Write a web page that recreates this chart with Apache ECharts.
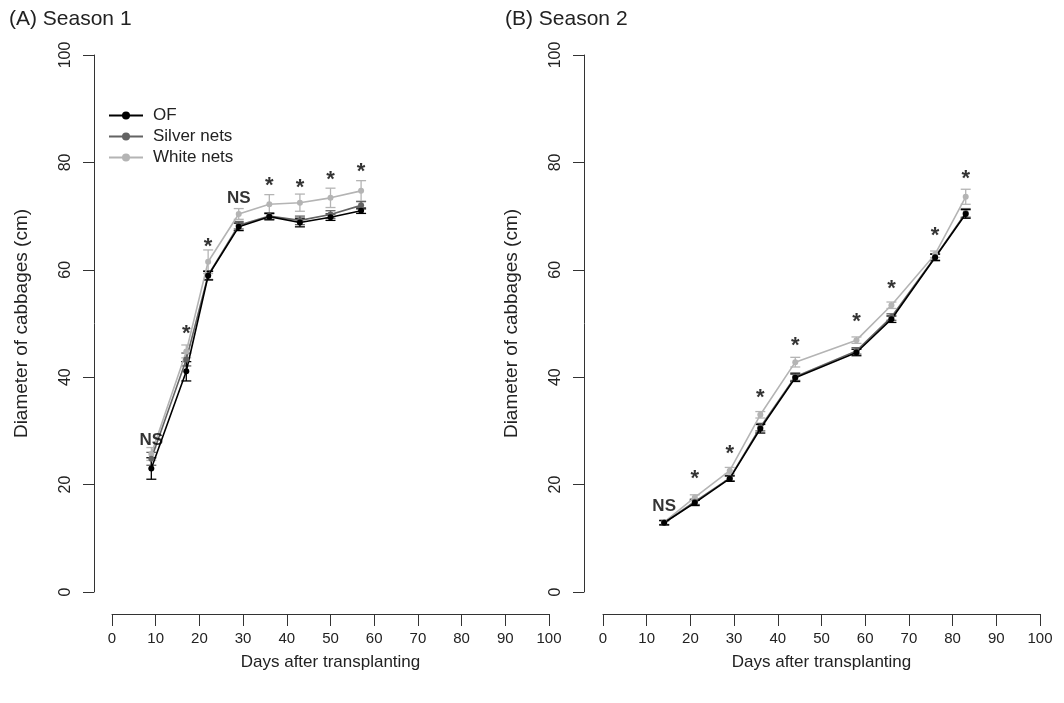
<!DOCTYPE html>
<html><head><meta charset="utf-8">
<script src="https://cdn.jsdelivr.net/npm/echarts@6/dist/echarts.min.js"></script>
<style>html,body{margin:0;padding:0;background:#fff}#c{width:1064px;height:703px}</style>
</head><body><div id="c"></div>
<script>
// ---- data ----
const xTicks = [0,10,20,30,40,50,60,70,80,90,100];
const yTicks = [0,20,40,60,80,100];
const seriesNames = ['OF','Silver nets','White nets'];
const panelTitles = ['(A) Season 1','(B) Season 2'];
const xTitle = 'Days after transplanting';
const yTitle = 'Diameter of cabbages (cm)';

const days1 = [9,17,22,29,36,43,50,57];
const of1 = [23.0,41.1,58.9,68.0,69.9,68.8,69.8,71.0];
const silver1 = [24.8,43.3,59.0,68.3,70.0,69.2,70.3,72.0];
const white1 = [25.7,44.8,61.5,70.4,72.2,72.5,73.4,74.7];
const ofErr1 = [2.0,1.8,0.8,0.7,0.6,0.8,0.6,0.5];
const silverErr1 = [1.2,1.2,0.8,0.7,0.6,0.8,0.7,0.7];
const whiteErr1 = [1.2,1.2,2.2,1.0,1.8,1.6,1.8,1.9];
const sig1 = ['NS','*','*','NS','*','*','*','*'];
const sigY1 = [28.3,49.2,65.4,73.4,76.7,76.3,77.8,79.3];

const days2 = [14,21,29,36,44,58,66,76,83];
const of2 = [12.9,16.6,21.1,30.4,39.9,44.6,50.8,62.3,70.4];
const silver2 = [12.9,16.8,21.2,30.7,40.1,44.9,51.2,62.4,70.6];
const white2 = [13.0,17.6,22.6,33.0,42.8,46.9,53.4,62.9,73.6];
const ofErr2 = [0.4,0.5,0.5,0.8,0.7,0.6,0.6,0.6,0.8];
const silverErr2 = [0.4,0.5,0.5,0.7,0.7,0.6,0.6,0.6,0.8];
const whiteErr2 = [0.4,0.5,0.6,0.6,0.9,0.6,0.6,0.6,1.4];
const sig2 = ['NS','*','*','*','*','*','*','*','*'];
const sigY2 = [15.9,22.1,26.9,37.3,47.0,51.4,57.6,67.4,78.1];

// ---- chart ----
const colors = {'OF':'#000000','Silver nets':'#636363','White nets':'#b4b4b4'};
const FONT = '"Liberation Sans", Arial, sans-serif';
const txt = '#222';

const panels = [
  {days: days1, vals: {'OF':of1,'Silver nets':silver1,'White nets':white1}, errs: {'OF':ofErr1,'Silver nets':silverErr1,'White nets':whiteErr1}, sig: sig1, sigY: sigY1},
  {days: days2, vals: {'OF':of2,'Silver nets':silver2,'White nets':white2}, errs: {'OF':ofErr2,'Silver nets':silverErr2,'White nets':whiteErr2}, sig: sig2, sigY: sigY2}
];

const grids = [
  {left:112, top:55, width:437, height:537},
  {left:603, top:55, width:437, height:537}
];

const xAxes = grids.map((g,i)=>({
  gridIndex:i, type:'value', min:0, max:100, interval:10, offset:22,
  name:xTitle, nameLocation:'middle', nameGap:40,
  nameTextStyle:{fontFamily:FONT, fontSize:17, color:txt},
  axisLine:{show:true, onZero:false, lineStyle:{color:'#333', width:1}},
  axisTick:{show:true, length:12, lineStyle:{color:'#333'}},
  axisLabel:{fontFamily:FONT, fontSize:15, color:txt, margin:17, showMaxLabel:true, showMinLabel:true},
  splitLine:{show:false}
}));
const yAxes = grids.map((g,i)=>({
  gridIndex:i, type:'value', min:0, max:100, interval:20, offset:i===0?18:19,
  name:yTitle, nameLocation:'middle', nameGap:63,
  nameTextStyle:{fontFamily:FONT, fontSize:19, color:txt},
  axisLine:{show:true, onZero:false, lineStyle:{color:'#333', width:1}},
  axisTick:{show:true, length:11, lineStyle:{color:'#333'}},
  axisLabel:{fontFamily:FONT, fontSize:16, color:txt, rotate:90, margin:20, showMaxLabel:true, showMinLabel:true},
  splitLine:{show:false}
}));

const series = [];
const drawOrder = ['White nets','Silver nets','OF'];
panels.forEach((p,pi)=>{
  drawOrder.forEach(name=>{
    const v = p.vals[name], e = p.errs[name];
    series.push({
      type:'custom', xAxisIndex:pi, yAxisIndex:pi, silent:true, z:2,
      data: p.days.map((d,k)=>[d, v[k]-e[k], v[k]+e[k]]),
      renderItem:(params, api)=>{
        const lo = api.coord([api.value(0), api.value(1)]);
        const hi = api.coord([api.value(0), api.value(2)]);
        const w = 5;
        const st = {stroke: colors[name], lineWidth:1.3};
        return {type:'group', children:[
          {type:'line', shape:{x1:lo[0],y1:lo[1],x2:hi[0],y2:hi[1]}, style:st},
          {type:'line', shape:{x1:lo[0]-w,y1:lo[1],x2:lo[0]+w,y2:lo[1]}, style:st},
          {type:'line', shape:{x1:hi[0]-w,y1:hi[1],x2:hi[0]+w,y2:hi[1]}, style:st}
        ]};
      }
    });
    series.push({
      name, type:'line', xAxisIndex:pi, yAxisIndex:pi, z:3,
      data: p.days.map((d,k)=>[d, v[k]]),
      symbol:'circle', symbolSize:6, showSymbol:true,
      itemStyle:{color:colors[name]},
      lineStyle:{color:colors[name], width:1.6},
      animation:false
    });
  });
  series.push({
    type:'scatter', xAxisIndex:pi, yAxisIndex:pi, symbolSize:0, silent:true, z:4,
    data: p.days.map((d,k)=>({value:[d, p.sigY[k]], label:{formatter:p.sig[k],
      fontSize: p.sig[k]==='*'?22:17, offset: p.sig[k]==='*'?[0,6]:[0,0]}})),
    label:{show:true, position:'inside', fontFamily:FONT, fontWeight:'bold', color:'#000', textBorderWidth:0}
  });
});

const chart = echarts.init(document.getElementById('c'), null, {renderer:'canvas'});
chart.setOption({
  backgroundColor:'#fff',
  animation:false,
  title: [
    {text:panelTitles[0], left:4, top:4, textStyle:{fontFamily:FONT, fontSize:21, fontWeight:'normal', color:txt}},
    {text:panelTitles[1], left:500, top:4, textStyle:{fontFamily:FONT, fontSize:21, fontWeight:'normal', color:txt}}
  ],
  legend:{
    data:seriesNames, orient:'vertical', left:103, top:102,
    itemWidth:34, itemHeight:10, itemGap:4,
    textStyle:{fontFamily:FONT, fontSize:17, color:txt, padding:[0,0,0,5]},
    selectedMode:false
  },
  grid:grids,
  xAxis:xAxes,
  yAxis:yAxes,
  series
});
</script></body></html>
